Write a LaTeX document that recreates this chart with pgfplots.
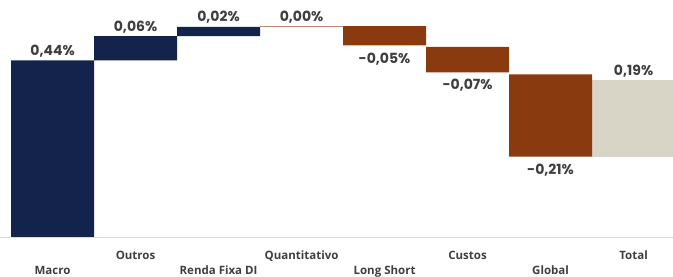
\documentclass[border=0pt]{standalone}
\usepackage{pgfplots}
\usepackage{pgfplotstable}
\pgfplotsset{compat=1.18}
\usepackage{fontspec}
\setmainfont{Open Sans}
\newfontfamily\valfont{Poppins}
\definecolor{navy}{HTML}{13234B}
\definecolor{brownc}{HTML}{8A3A0F}
\definecolor{beige}{HTML}{D8D5C6}
\definecolor{txt}{HTML}{3F3F3F}
\pgfplotstableread{
x base navy brown beige
0.5 0 0.44 0 0
1.5 0.44 0.06 0 0
2.5 0.50 0.023 0 0
3.5 0.523 0 0 0
4.5 0.477 0 0.048 0
5.5 0.41 0 0.063 0
6.5 0.20 0 0.205 0
7.5 0.20 0 0 0.19
}\bars
\pgfplotstableread{
x y lab
0.5 0.44 0,44
1.5 0.50 0,06
2.5 0.523 0,02
3.5 0.523 0,00
7.5 0.39 0,19
}\poslab
\pgfplotstableread{
x y lab
4.5 0.477 -0,05
5.5 0.41 -0,07
6.5 0.20 -0,21
}\neglab
\pgfplotsset{common/.style={
  at={(0,40bp)}, anchor=south west,
  width=673bp, height=237bp, scale only axis,
  xmin=-0.133, xmax=7.975, ymin=0, ymax=0.59,
}}
\begin{document}
\begin{tikzpicture}
\begin{axis}[
  common,
  ybar stacked, bar width=1,
  axis y line=none,
  axis x line*=bottom,
  x axis line style={draw=black!15, line width=1bp, -},
  major tick length=0pt,
  xtick={0.5,2.5,4.5,6.5},
  xticklabels={Macro,Renda Fixa DI,Long Short,Global},
  extra x ticks={1.5,3.5,5.5,7.5},
  extra x tick labels={Outros,Quantitativo,Custos,Total},
  xticklabel style={anchor=base, inner sep=0pt, yshift=-37.5bp, font=\fontsize{11.5bp}{13bp}\selectfont\bfseries, text=txt},
  extra x tick style={xticklabel style={yshift=15.5bp}},
]
\addplot[draw=none, fill=none] table[x=x, y=base] {\bars};
\addplot[draw=none, fill=navy] table[x=x, y=navy] {\bars};
\addplot[draw=none, fill=brownc] table[x=x, y=brown] {\bars};
\addplot[draw=none, fill=beige] table[x=x, y=beige] {\bars};
\end{axis}
\begin{axis}[common, hide axis, clip=false]
\addplot[draw=brownc!60, line width=1bp, sharp plot] coordinates {(3,0.523) (4,0.523)};
\addplot[only marks, mark=none, point meta=explicit symbolic,
  nodes near coords={\pgfplotspointmeta\%},
  every node near coord/.style={anchor=south, inner sep=0pt, yshift=3bp, font=\valfont\fontsize{14bp}{16bp}\selectfont\bfseries, text=txt}]
  table[x=x, y=y, meta=lab] {\poslab};
\addplot[only marks, mark=none, point meta=explicit symbolic,
  nodes near coords={\pgfplotspointmeta\%},
  every node near coord/.style={anchor=north, inner sep=0pt, yshift=-7bp, font=\valfont\fontsize{14bp}{16bp}\selectfont\bfseries, text=txt}]
  table[x=x, y=y, meta=lab] {\neglab};
\end{axis}
\pgfresetboundingbox
\useasboundingbox (0,0) rectangle (673bp,277bp);
\end{tikzpicture}
\end{document}
